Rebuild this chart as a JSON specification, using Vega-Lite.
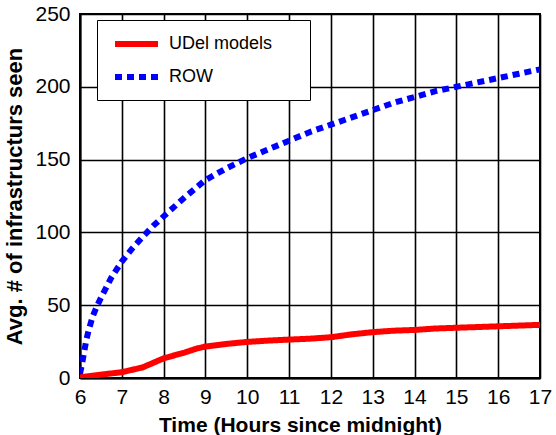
{
  "$schema": "https://vega.github.io/schema/vega-lite/v6.json",
  "width": 460,
  "height": 364,
  "autosize": "none",
  "padding": {"left": 80, "top": 14, "right": 16, "bottom": 57},
  "background": "white",
  "config": {
    "font": "Liberation Sans",
    "view": {"stroke": "black", "strokeWidth": 2},
    "axis": {
      "grid": true,
      "gridColor": "black",
      "gridOpacity": 1,
      "gridWidth": 1.6,
      "domainColor": "black",
      "domainWidth": 2,
      "ticks": false,
      "labelFont": "Liberation Sans",
      "labelFontSize": 21,
      "labelColor": "black",
      "labelFlush": false,
      "titleFont": "Liberation Sans",
      "titleFontWeight": "bold",
      "titleColor": "black"
    }
  },
  "data": {
    "values": [
      {"hour": 6.0, "avg": 0.5, "series": "UDel models"},
      {"hour": 6.5, "avg": 2.3, "series": "UDel models"},
      {"hour": 7.0, "avg": 4, "series": "UDel models"},
      {"hour": 7.5, "avg": 7.3, "series": "UDel models"},
      {"hour": 8.0, "avg": 13.5, "series": "UDel models"},
      {"hour": 8.5, "avg": 17.5, "series": "UDel models"},
      {"hour": 8.8, "avg": 20.3, "series": "UDel models"},
      {"hour": 9.0, "avg": 21.6, "series": "UDel models"},
      {"hour": 9.5, "avg": 23.4, "series": "UDel models"},
      {"hour": 10.0, "avg": 24.8, "series": "UDel models"},
      {"hour": 10.5, "avg": 25.7, "series": "UDel models"},
      {"hour": 11.0, "avg": 26.4, "series": "UDel models"},
      {"hour": 11.5, "avg": 27, "series": "UDel models"},
      {"hour": 12.0, "avg": 28, "series": "UDel models"},
      {"hour": 12.5, "avg": 30, "series": "UDel models"},
      {"hour": 13.0, "avg": 31.5, "series": "UDel models"},
      {"hour": 13.5, "avg": 32.5, "series": "UDel models"},
      {"hour": 14.0, "avg": 33, "series": "UDel models"},
      {"hour": 14.5, "avg": 34, "series": "UDel models"},
      {"hour": 15.0, "avg": 34.5, "series": "UDel models"},
      {"hour": 15.5, "avg": 35, "series": "UDel models"},
      {"hour": 16.0, "avg": 35.5, "series": "UDel models"},
      {"hour": 16.5, "avg": 36, "series": "UDel models"},
      {"hour": 17.0, "avg": 36.5, "series": "UDel models"},
      {"hour": 6.0, "avg": 3, "series": "ROW"},
      {"hour": 6.05, "avg": 10, "series": "ROW"},
      {"hour": 6.1, "avg": 18, "series": "ROW"},
      {"hour": 6.15, "avg": 26, "series": "ROW"},
      {"hour": 6.2, "avg": 32, "series": "ROW"},
      {"hour": 6.3, "avg": 42, "series": "ROW"},
      {"hour": 6.4, "avg": 49, "series": "ROW"},
      {"hour": 6.5, "avg": 55, "series": "ROW"},
      {"hour": 6.75, "avg": 69, "series": "ROW"},
      {"hour": 7.0, "avg": 80, "series": "ROW"},
      {"hour": 7.25, "avg": 89, "series": "ROW"},
      {"hour": 7.5, "avg": 97, "series": "ROW"},
      {"hour": 7.75, "avg": 104.5, "series": "ROW"},
      {"hour": 8.0, "avg": 111, "series": "ROW"},
      {"hour": 8.5, "avg": 124, "series": "ROW"},
      {"hour": 9.0, "avg": 136, "series": "ROW"},
      {"hour": 9.5, "avg": 144, "series": "ROW"},
      {"hour": 10.0, "avg": 151, "series": "ROW"},
      {"hour": 10.5, "avg": 157, "series": "ROW"},
      {"hour": 11.0, "avg": 163, "series": "ROW"},
      {"hour": 11.5, "avg": 169, "series": "ROW"},
      {"hour": 12.0, "avg": 174, "series": "ROW"},
      {"hour": 12.5, "avg": 179, "series": "ROW"},
      {"hour": 13.0, "avg": 184, "series": "ROW"},
      {"hour": 13.5, "avg": 189, "series": "ROW"},
      {"hour": 14.0, "avg": 193, "series": "ROW"},
      {"hour": 14.5, "avg": 197, "series": "ROW"},
      {"hour": 15.0, "avg": 200, "series": "ROW"},
      {"hour": 15.5, "avg": 203, "series": "ROW"},
      {"hour": 16.0, "avg": 206, "series": "ROW"},
      {"hour": 16.5, "avg": 209, "series": "ROW"},
      {"hour": 17.0, "avg": 212, "series": "ROW"}
    ]
  },
  "mark": {"type": "line", "strokeWidth": 6, "clip": true},
  "encoding": {
    "x": {
      "field": "hour",
      "type": "quantitative",
      "scale": {"domain": [6, 17], "nice": false},
      "axis": {
        "values": [6, 7, 8, 9, 10, 11, 12, 13, 14, 15, 16, 17],
        "title": "Time (Hours since midnight)",
        "titleFontSize": 21,
        "labelPadding": 8,
        "titlePadding": 7,
        "titleX": 220
      }
    },
    "y": {
      "field": "avg",
      "type": "quantitative",
      "scale": {"domain": [0, 250], "nice": false},
      "axis": {
        "values": [0, 50, 100, 150, 200, 250],
        "title": "Avg. # of infrastructurs seen",
        "titleFontSize": 22,
        "labelPadding": 10,
        "titlePadding": 8
      }
    },
    "color": {
      "field": "series",
      "type": "nominal",
      "scale": {"domain": ["UDel models", "ROW"], "range": ["#ff0000", "#0000ff"]},
      "legend": {
        "title": null,
        "orient": "none",
        "legendX": 17,
        "legendY": 6,
        "fillColor": "white",
        "strokeColor": "black",
        "padding": 11,
        "rowPadding": 8,
        "symbolType": "M-0.6,0H3.7",
        "symbolSize": 400,
        "symbolStrokeWidth": 6,
        "labelFont": "Liberation Sans",
        "labelFontSize": 18,
        "labelColor": "black",
        "labelOffset": 35,
        "labelExpr": "datum.label + '\u2800\u2800'"
      }
    },
    "strokeDash": {
      "field": "series",
      "type": "nominal",
      "scale": {"domain": ["UDel models", "ROW"], "range": [[1, 0], [7, 5]]},
      "legend": null
    }
  }
}
